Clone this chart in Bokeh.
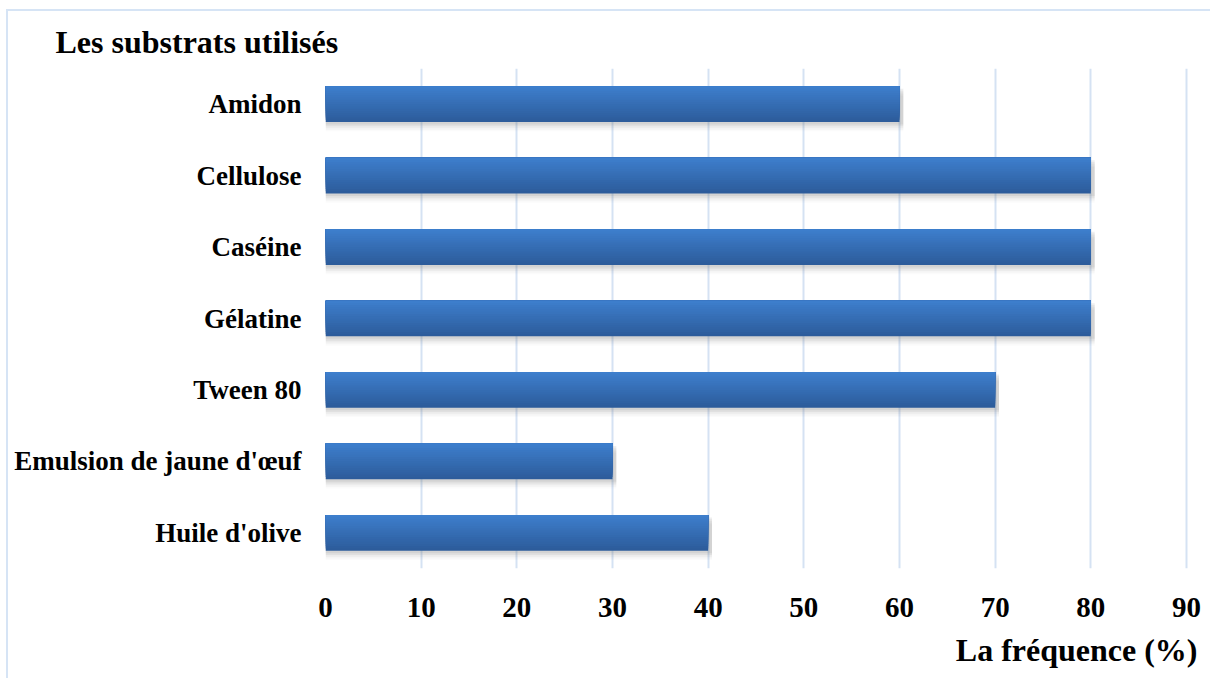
from bokeh.plotting import figure
from bokeh.models import FactorRange, Range1d, Title, ColumnDataSource
from bokeh.transform import dodge
from bokeh.embed import file_html
from bokeh.resources import INLINE

categories = ["Amidon", "Cellulose", "Caséine", "Gélatine", "Tween 80",
              "Emulsion de jaune d'œuf", "Huile d'olive"]
values = [60, 80, 80, 80, 70, 30, 40]
x_ticks = [0, 10, 20, 30, 40, 50, 60, 70, 80, 90]
title_text = "Les substrats utilisés"
x_title = "La fréquence (%)"

FONT = "Liberation Serif"
GRID = "#d5e2f3"

src = ColumnDataSource(dict(cat=categories, val=values))

# frame extends ~11 px past the last gridline so the axis title can end there
p = figure(width=1204, height=669, output_backend="svg", toolbar_location=None,
           y_range=FactorRange(factors=list(reversed(categories)), range_padding=0),
           x_range=Range1d(x_ticks[0], x_ticks[-1] + 1.15),
           min_border_left=317, min_border_right=15, min_border_top=57, min_border_bottom=112)
p.styles = {"margin-left": "6px", "margin-top": "9px",
            "border-left": "2px solid #d6e4f5", "border-top": "2px solid #d6e4f5"}
p.outline_line_color = None
p.background_fill_color = "white"
p.border_fill_color = "white"
p.ygrid.grid_line_color = None
p.xgrid.grid_line_color = GRID
p.xgrid.grid_line_width = 2

# shadow
for off, a in [(-0.035, 0.10), (-0.06, 0.08), (-0.085, 0.06), (-0.11, 0.04), (-0.13, 0.025)]:
    p.hbar(y=dodge("cat", off, range=p.y_range), left=0, right=dodge("val", 0.4), height=0.5,
           source=src, fill_color="#606060", fill_alpha=a, line_color=None)

# gradient bar (nested bars anchored at the top, darkest first)
top_c = (0x3d, 0x7e, 0xcc)
bot_c = (0x2d, 0x5c, 0x9b)
N = 16
bh = 0.5
for i in range(N):
    t = 1 - i / (N - 1)
    col = "#%02x%02x%02x" % tuple(int(round(top_c[k] + (bot_c[k] - top_c[k]) * t)) for k in range(3))
    h = bh * (N - i) / N
    off = bh / 2 - h / 2
    p.hbar(y=dodge("cat", off, range=p.y_range), left=0, right="val", height=h,
           source=src, fill_color=col, line_color=None)

xa = p.xaxis[0]
xa.ticker = x_ticks
xa.axis_line_color = None
xa.major_tick_line_color = None
xa.minor_tick_line_color = None
xa.major_label_text_font = FONT
xa.major_label_text_font_style = "bold"
xa.major_label_text_font_size = "29px"
xa.major_label_text_color = "black"
xa.major_label_standoff = 23

ya = p.yaxis[0]
ya.axis_line_color = None
ya.major_tick_line_color = None
ya.minor_tick_line_color = None
ya.major_label_text_font = FONT
ya.major_label_text_font_style = "bold"
ya.major_label_text_font_size = "27px"
ya.major_label_text_color = "black"
ya.major_label_standoff = 18

p.add_layout(Title(text=x_title, align="right", offset=0, standoff=20, text_font=FONT,
                   text_font_style="bold", text_font_size="32px", text_color="black"), "below")
p.add_layout(Title(text=title_text, align="left", offset=-270, standoff=18, text_font=FONT,
                   text_font_style="bold", text_font_size="32px", text_color="black"), "above")

open("out.html", "w").write(file_html(p, INLINE))
